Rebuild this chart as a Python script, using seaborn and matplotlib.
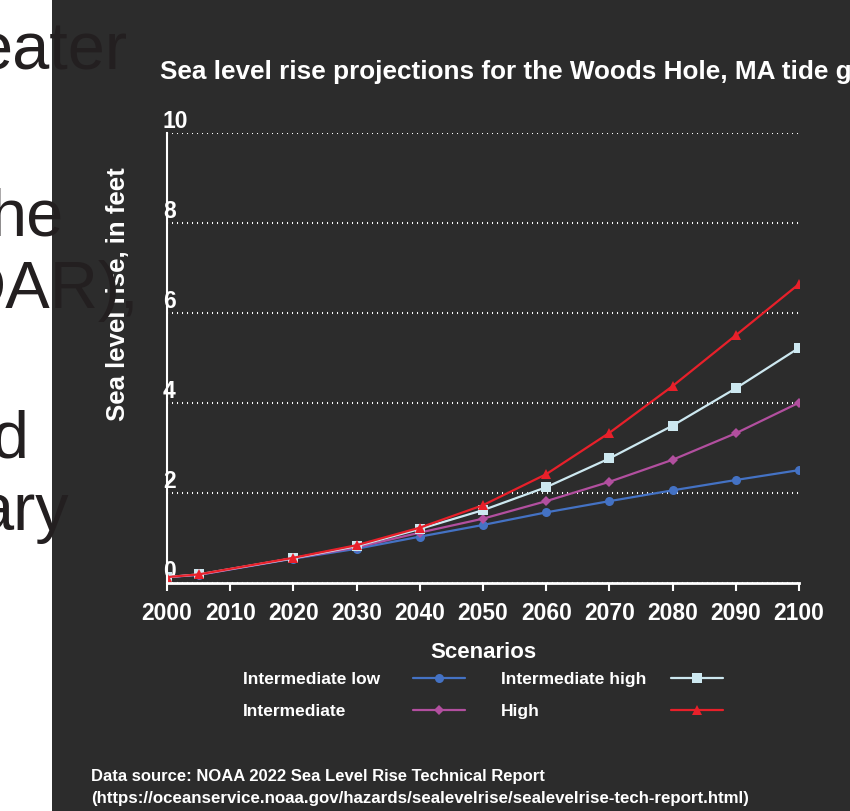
import matplotlib
matplotlib.use("Agg")
import matplotlib.pyplot as plt
from matplotlib.patches import Rectangle
import seaborn as sns
import pandas as pd

# valeurs (pieds)
years = [2000, 2005, 2020, 2030, 2040, 2050, 2060, 2070, 2080, 2090, 2100]
int_low = [0.12, 0.17, 0.53, 0.75, 1.02, 1.28, 1.56, 1.81, 2.05, 2.28, 2.50]
intermediate = [0.12, 0.17, 0.54, 0.78, 1.11, 1.42, 1.81, 2.24, 2.73, 3.32, 4.00]
int_high = [0.12, 0.18, 0.54, 0.81, 1.19, 1.61, 2.12, 2.76, 3.49, 4.32, 5.22]
high = [0.12, 0.18, 0.55, 0.83, 1.22, 1.72, 2.41, 3.33, 4.37, 5.50, 6.64]

scenarios = ["Intermediate low", "Intermediate", "Intermediate high", "High"]
colors = ["#4472C4", "#B24F9F", "#CDE8F0", "#E8202A"]
markers = ["o", "D", "s", "^"]
marker_sizes = [6.5, 5, 7.5, 7.5]

y_ticks = [0, 2, 4, 6, 8, 10]
x_ticks = list(range(2000, 2101, 10))

# fragments du texte de la diapositive (masqué par le graphique)
slide_words = ["eater", "he", "DAR),", "d", "ary"]

df = pd.DataFrame({
    "year": years * 4,
    "value": int_low + intermediate + int_high + high,
    "scenario": [s for s in scenarios for _ in years],
})

sns.set_theme(style="dark")
plt.rcParams["font.family"] = ["Liberation Sans", "DejaVu Sans"]
narrow = ["Liberation Sans Narrow", "Liberation Sans", "DejaVu Sans"]

W, H = 850, 811
fig = plt.figure(figsize=(W / 100, H / 100), dpi=100)
fig.patch.set_facecolor("white")

# panneau sombre
fig.patches.append(Rectangle((52 / W, 0), 1 - 52 / W, 1, transform=fig.transFigure,
                             facecolor="#2c2c2c", edgecolor="none", zorder=-5))

ax = fig.add_axes([167 / W, 1 - 582.5 / H, (799 - 167) / W, (582.5 - 133) / H])
ax.set_facecolor("none")

sns.lineplot(data=df, x="year", y="value", hue="scenario", style="scenario",
             hue_order=scenarios, style_order=scenarios,
             palette=dict(zip(scenarios, colors)),
             markers=dict(zip(scenarios, markers)), dashes=False,
             linewidth=1.6, markeredgewidth=0, legend=False, ax=ax)

for line, ms in zip(ax.lines, marker_sizes):
    line.set_markersize(ms)

ax.set_xlim(2000, 2100)
ax.set_ylim(0, 10)
ax.set_xlabel("")
ax.set_ylabel("")

ax.set_xticks(x_ticks)
ax.set_xticklabels([str(x) for x in x_ticks], fontsize=16.5, fontweight="bold", color="white")
ax.tick_params(axis="x", direction="out", length=6, width=1.5, color="white", pad=8, bottom=True)

ax.set_yticks(y_ticks)
ax.set_yticklabels([str(y) for y in y_ticks], fontsize=16.5, fontweight="bold", color="white")
ax.tick_params(axis="y", length=0, pad=3)
for lab in ax.get_yticklabels():
    lab.set_horizontalalignment("left")
    lab.set_verticalalignment("bottom")

ax.yaxis.grid(True, color="white", linestyle=(0, (0.5, 1.9)), linewidth=1.5)
ax.xaxis.grid(False)
for side in ["top", "right"]:
    ax.spines[side].set_visible(False)
ax.spines["left"].set_color("white")
ax.spines["left"].set_linewidth(1.5)
ax.spines["bottom"].set_color("white")
ax.spines["bottom"].set_linewidth(2)
ax.spines["left"].set_zorder(3)

leg = ax.legend(ax.lines[:4], scenarios, ncol=2, markerfirst=False, frameon=False,
                title="Scenarios", loc="upper center",
                bbox_to_anchor=(483 / W, 1 - 633 / H), bbox_transform=fig.transFigure,
                prop={"weight": "bold", "size": 12.5},
                title_fontproperties={"weight": "bold", "size": 16},
                handlelength=3.0, handletextpad=1.9, columnspacing=2.1,
                labelspacing=0.98, borderpad=0, numpoints=1)
leg.get_title().set_color("white")
for t in leg.get_texts():
    t.set_color("white")
# texte à gauche, symbole à droite, largeur fixe par entrée
for col in leg._legend_handle_box.get_children():
    for item in col.get_children():
        item.mode = "expand"
        item.width = 222
leg._legend_box.sep = 6.5

fig.text(160 / W, 1 - 72 / H, "Sea level rise projections for the Woods Hole, MA tide gauge",
         fontsize=18.8, fontweight="bold", color="white", ha="left", va="center")

fig.text(118 / W, 1 - 294 / H, "Sea level rise, in feet", rotation=90,
         fontsize=18.5, fontweight="bold", color="white", ha="center", va="center", zorder=3)

fig.text(91 / W, 1 - 776 / H, "Data source: NOAA 2022 Sea Level Rise Technical Report",
         fontsize=12, fontweight="bold", color="white", ha="left", va="center")
fig.text(91 / W, 1 - 798 / H,
         "(https://oceanservice.noaa.gov/hazards/sealevelrise/sealevelrise-tech-report.html)",
         fontsize=12.2, fontweight="bold", color="white", ha="left", va="center")

# texte de la diapositive par-dessus
right_edges = [127, 64, 139, 28, 69]
baselines = [70, 235, 308, 457, 530]
for word, xr, yb in zip(slide_words, right_edges, baselines):
    fig.text(xr / W, 1 - yb / H, word, family=narrow, fontsize=48,
             color="#231f20", ha="right", va="baseline", zorder=10)

fig.savefig("out.png", dpi=100, facecolor=fig.get_facecolor())
